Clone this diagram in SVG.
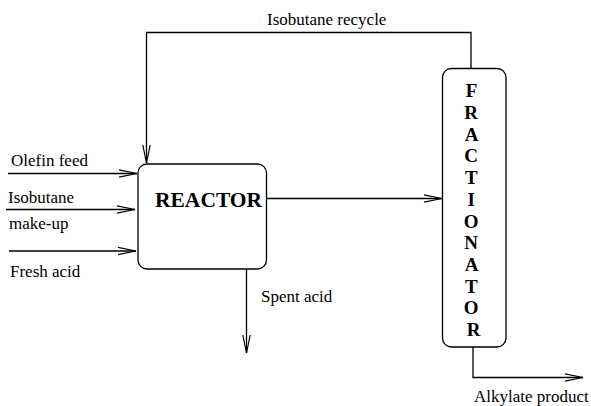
<svg xmlns="http://www.w3.org/2000/svg" width="591" height="406" viewBox="0 0 591 406">
<defs>
<style>
.lbl{font-family:"Liberation Serif","Times New Roman",serif;font-size:17px;fill:#000}
.big{font-family:"Liberation Serif","Times New Roman",serif;font-weight:bold;fill:#000}
.box{fill:#fff;stroke:#000;stroke-width:1.3}
.ln{fill:none;stroke:#000;stroke-width:1.3}
</style>
<marker id="arr" markerUnits="userSpaceOnUse" markerWidth="20" markerHeight="10" refX="18" refY="5" orient="auto" overflow="visible">
<path d="M0,1.3 L18,5 L0,8.7" fill="none" stroke="#000" stroke-width="1.2"/>
</marker>
</defs>
<g id="connectors">
<path class="ln" d="M8,173.5 H137" marker-end="url(#arr)"/>
<path class="ln" d="M6,209.5 H135" marker-end="url(#arr)"/>
<path class="ln" d="M9,251 H136" marker-end="url(#arr)"/>
<path class="ln" d="M471,68 V32.5 H146.5 V163" marker-end="url(#arr)"/>
<path class="ln" d="M266,198.5 H442" marker-end="url(#arr)"/>
<path class="ln" d="M246.5,269 V353" marker-end="url(#arr)"/>
<path class="ln" d="M473,347 V377.5 H583" marker-end="url(#arr)"/>
</g>
<g id="labels">
<text class="lbl" x="11" y="165.5">Olefin feed</text>
<text class="lbl" x="8" y="203">Isobutane</text>
<text class="lbl" x="9" y="229">make-up</text>
<text class="lbl" x="10" y="277">Fresh acid</text>
<text class="lbl" x="267" y="24.5">Isobutane recycle</text>
<text class="lbl" x="261" y="302">Spent acid</text>
<text class="lbl" x="474" y="401.5">Alkylate product</text>
</g>
<g id="reactor">
<rect class="box" x="138" y="164" width="128.5" height="105" rx="9"/>
<text class="big" x="155" y="206.5" font-size="21.5">REACTOR</text>
</g>
<g id="fractionator">
<rect class="box" x="442.5" y="68.5" width="63.5" height="278.5" rx="9"/>
<text class="big" font-size="19" text-anchor="middle">
<tspan x="473.5" y="97.3">F</tspan>
<tspan x="473.5" y="119">R</tspan>
<tspan x="473.5" y="140.7">A</tspan>
<tspan x="473.5" y="162.4">C</tspan>
<tspan x="473.5" y="184.1">T</tspan>
<tspan x="473.5" y="205.8">I</tspan>
<tspan x="473.5" y="227.5">O</tspan>
<tspan x="473.5" y="249.2">N</tspan>
<tspan x="473.5" y="270.9">A</tspan>
<tspan x="473.5" y="292.6">T</tspan>
<tspan x="473.5" y="314.3">O</tspan>
<tspan x="473.5" y="336">R</tspan>
</text>
</g>
</svg>
